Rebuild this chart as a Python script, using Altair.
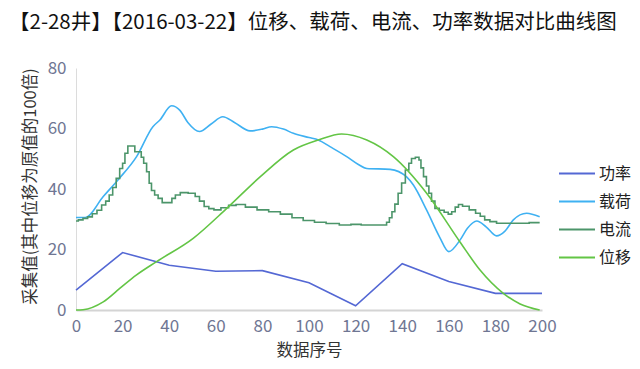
import altair as alt
import pandas as pd

# ---- data ----
series_names = ["功率", "载荷", "电流", "位移"]
series_colors = ["#5468d4", "#3fb1f2", "#4c956a", "#63c545"]

power_x = [0, 20, 40, 60, 80, 100, 120, 140, 160, 180, 200]
power_y = [6.6, 19.0, 14.8, 12.8, 13.0, 9.0, 1.4, 15.3, 9.4, 5.5, 5.5]

load_x = [0, 4, 11.7, 18, 26, 33, 36, 41, 44.6, 48, 53, 58, 63, 68, 74.7, 80, 84, 89, 93.3,
          100, 104, 109, 116, 121, 124.8, 134.8, 141.9, 144.8, 150.5, 156, 160, 164.8, 168, 172,
          176, 180.5, 184, 187.7, 193.4, 199]
load_y = [30.6, 30.6, 37.5, 43, 50.7, 60.6, 62.8, 67.5, 66, 62, 59, 61.5, 63.9, 62, 59.2, 59.8,
          60.6, 59.8, 58.4, 57, 56.2, 54, 50.8, 48.2, 46.8, 46.5, 44, 41.3, 33, 24.2, 19.3, 23.1,
          27, 29.4, 27.5, 24.5, 26, 29.8, 32, 30.8]

current_x = [0, 2, 4, 6, 8, 10, 12, 13.5, 15, 16.5, 18, 19.5, 20.5, 21.5, 23, 27.5, 28.5, 29.6,
             31, 31.8, 33, 34.5, 36, 38, 40.5, 41.8, 43.5, 46, 50.3, 52, 54, 56, 58, 60.4, 64,
             67, 70.4, 75, 80.4, 85, 90.4, 95, 100, 104.7, 110, 116, 120, 124.8, 132.6, 134,
             135, 136.2, 137.5, 139, 140.5, 142.2, 143.5, 144.5, 146.8, 147.6, 148.5, 149.8,
             151, 151.9, 153.3, 154.8, 157, 159, 160.5, 162, 163.5, 164.8, 167, 170.5, 172.5,
             174.5, 176.3, 179, 182, 190, 199]
current_y = [29.4, 29.8, 30.3, 30.8, 31.8, 33, 34.7, 36, 38, 40.5, 43.5, 46.8, 48.5, 51.8, 54.2,
             52.3, 50.5, 48.5, 45.7, 41.9, 39.5, 38, 36.9, 35.5, 35.5, 36.9, 38, 38.8, 38.6, 37.5,
             36, 34.2, 33.5, 33.1, 33.8, 34.6, 34.9, 34, 33.1, 32.5, 31.7, 30.5, 29.6, 29, 28.6,
             28.1, 28.3, 28.1, 28.1, 29, 30.5, 32.5, 35, 38.6, 42, 46.3, 48.5, 50.1, 50.5, 49.6,
             47, 44.1, 41, 38.6, 36, 33.6, 33, 32.3, 31.7, 32.5, 34, 34.9, 34.3, 33.1, 32, 31,
             29.8, 29.2, 28.7, 28.7, 28.9]

disp_x = [0, 3, 11.7, 18.9, 26, 34.6, 50.3, 64.7, 79, 93.3, 104, 114, 124.8, 136.2, 150.5, 164.8,
          173.4, 183.4, 190.6, 199]
disp_y = [0, 0.1, 2.7, 7.2, 11.6, 16, 23.7, 33.6, 44, 52.9, 56.2, 58.2, 56.2, 50.7, 38.6, 22.5,
          13.2, 5.5, 2.0, 0]

x_ticks = list(range(0, 201, 20))
y_ticks = list(range(0, 81, 20))

title_text = "【2-28井】【2016-03-22】位移、载荷、电流、功率数据对比曲线图"
x_title = "数据序号"
y_title = "采集值(其中位移为原值的100倍)"

FONT = "Noto Sans CJK SC"


def frame(name, xs, ys):
    return pd.DataFrame({"x": xs, "y": ys, "s": name})


df = pd.concat([
    frame("功率", power_x, power_y),
    frame("载荷", load_x, load_y),
    frame("电流", current_x, current_y),
    frame("位移", disp_x, disp_y),
], ignore_index=True)

color = alt.Color(
    "s:N",
    scale=alt.Scale(domain=series_names, range=series_colors),
    legend=alt.Legend(
        title=None,
        orient="none",
        legendX=482,
        legendY=97,
        symbolType="stroke",
        symbolSize=1296,
        symbolStrokeWidth=2,
        labelFontSize=16,
        labelFont=FONT,
        labelColor="#222222",
        labelOffset=3,
        rowPadding=11,
        clipHeight=17,
    ),
)

x_enc = alt.X(
    "x:Q",
    scale=alt.Scale(domain=[0, 200], nice=False),
    axis=alt.Axis(
        values=x_ticks, title=x_title, grid=False, ticks=False, tickSize=0,
        labelFlush=False, labelOverlap=False,
        labelFontSize=17, labelColor="#6f7693", labelFont=FONT, labelPadding=8,
        titleFontSize=16.5, titleFont=FONT, titleColor="#333333", titleFontWeight="normal",
        titleX=233, titleY=40, titleAlign="center", titleBaseline="middle",
        domainColor="#d4d4d4", domainWidth=2,
    ),
)
y_enc = alt.Y(
    "y:Q",
    scale=alt.Scale(domain=[0, 80], nice=False),
    axis=alt.Axis(
        values=y_ticks, title=y_title, grid=False, ticks=False, tickSize=0,
        labelFlush=False, labelOverlap=False,
        labelFontSize=17, labelColor="#6f7693", labelFont=FONT, labelPadding=10,
        titleFontSize=16.5, titleFont=FONT, titleColor="#333333", titleFontWeight="normal",
        titleAngle=270, titleAlign="center", titleBaseline="middle",
        titleX=-46, titleY=118, domainColor="#dcdcdc", domainWidth=1,
    ),
)

base = alt.Chart(df)


def layer(name, interp):
    return base.transform_filter(alt.datum.s == name).mark_line(
        interpolate=interp, strokeWidth=1.6
    ).encode(x=x_enc, y=y_enc, color=color, order="x:Q")


chart = alt.layer(
    layer("功率", "linear"),
    layer("载荷", "monotone"),
    layer("电流", "step"),
    layer("位移", "monotone"),
).properties(
    width=466,
    height=242,
    padding={"left": 68, "top": 60, "right": 90, "bottom": 51},
    autosize=alt.AutoSizeParams(type="none"),
    title=alt.TitleParams(
        text=title_text, anchor="start", frame="group", dx=-67, offset=26,
        fontSize=20.5, font=FONT, fontWeight="normal", color="#111111",
    ),
).configure_view(stroke=None)

chart.save("out.html", embed_options={"renderer": "svg", "actions": False})
